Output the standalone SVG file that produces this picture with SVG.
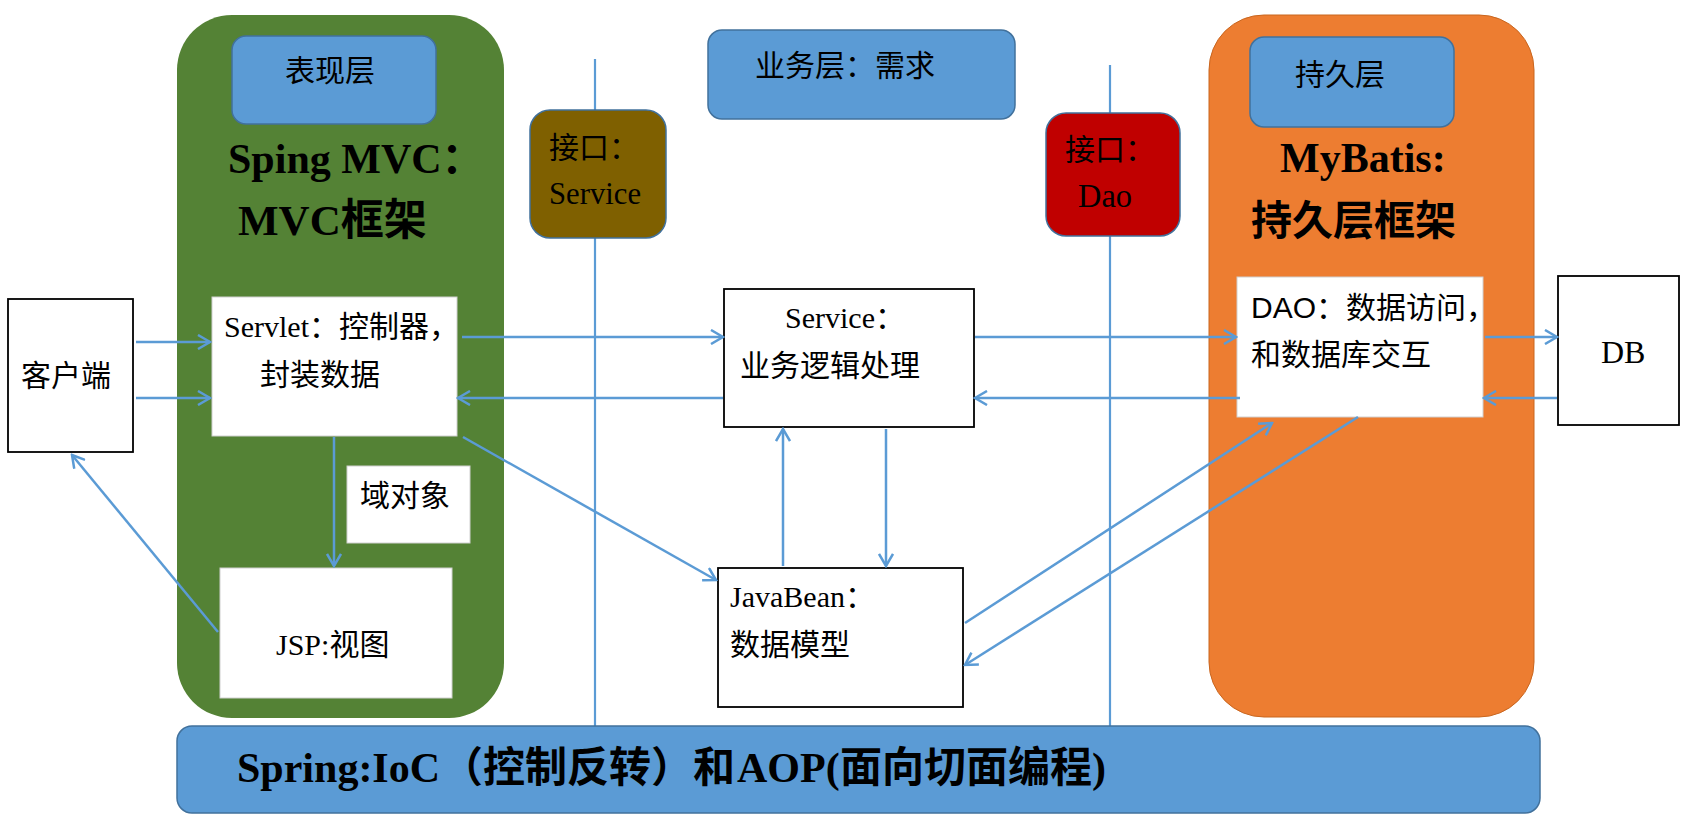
<svg xmlns="http://www.w3.org/2000/svg" width="1703" height="823" viewBox="0 0 1703 823">
<style>
  .cjk { font-family: "Liberation Serif", "Noto Sans CJK SC", sans-serif; font-size: 30px; fill: #000; }
  .sans { font-family: "Liberation Sans", "Noto Sans CJK SC", sans-serif; font-size: 30px; fill: #000; }
  .title { font-family: "Liberation Serif", "Noto Sans CJK SC", serif; font-weight: bold; font-size: 43px; fill: #000; }
  .label { fill: #5B9BD5; stroke: #41719C; stroke-width: 1.5; }
  .wbox { fill: #fff; stroke: #d0d0d0; stroke-width: 1; }
  .bbox { fill: #fff; stroke: #000; stroke-width: 1.8; }
  .conn { stroke: #5B9BD5; stroke-width: 2.5; fill: none; }
  .vline { stroke: #5B9BD5; stroke-width: 2.2; fill: none; }
</style>
<defs>
  <marker id="arr" viewBox="0 0 16 16" refX="14" refY="8" markerWidth="16" markerHeight="16" markerUnits="userSpaceOnUse" orient="auto">
    <path d="M2,1 L14,8 L2,15" fill="none" stroke="#5B9BD5" stroke-width="2.5"/>
  </marker>
</defs>

<g id="presentation-layer">
  <rect x="177" y="15" width="327" height="703" rx="55" ry="55" fill="#548235"/>
</g>
<g id="persistence-layer">
  <rect x="1209" y="15" width="325" height="702" rx="55" ry="55" fill="#ED7D31" stroke="#C9661F" stroke-width="1"/>
</g>

<g id="dividers">
  <line class="vline" x1="595" y1="59" x2="595" y2="727"/>
  <line class="vline" x1="1110" y1="65" x2="1110" y2="727"/>
</g>

<g id="label-presentation">
  <rect class="label" x="232" y="36" width="204" height="88" rx="14"/>
  <text class="cjk" x="285" y="81">表现层</text>
</g>
<g id="title-springmvc">
  <text class="title" x="228" y="173" style="font-size:42px">Sping MVC：</text>
  <text class="title" x="238" y="235">MVC框架</text>
</g>

<g id="label-business">
  <rect class="label" x="708" y="30" width="307" height="89" rx="14"/>
  <text class="cjk" x="755" y="76">业务层：需求</text>
</g>

<g id="iface-service">
  <rect x="530" y="110" width="136" height="128" rx="20" fill="#7F6000" stroke="#41719C" stroke-width="1.5"/>
  <text class="cjk" x="549" y="158">接口：</text>
  <text class="cjk" x="549" y="204" style="font-size:32px" textLength="92" lengthAdjust="spacingAndGlyphs">Service</text>
</g>

<g id="iface-dao">
  <rect x="1046" y="113" width="134" height="123" rx="20" fill="#C00000" stroke="#41719C" stroke-width="1.5"/>
  <text class="cjk" x="1065" y="160">接口：</text>
  <text class="cjk" x="1078" y="207" style="font-size:33px" textLength="54" lengthAdjust="spacingAndGlyphs">Dao</text>
</g>

<g id="label-persistence">
  <rect class="label" x="1250" y="37" width="204" height="90" rx="14"/>
  <text class="cjk" x="1295" y="85">持久层</text>
</g>
<g id="title-mybatis">
  <text class="title" x="1280" y="172" style="font-size:42px">MyBatis:</text>
  <text class="title" x="1251" y="235" style="font-size:41px">持久层框架</text>
</g>

<g id="client">
  <rect class="bbox" x="8" y="299" width="125" height="153"/>
  <text class="cjk" x="21" y="386">客户端</text>
</g>

<g id="servlet">
  <rect class="wbox" x="212" y="297" width="245" height="139"/>
  <text class="cjk" x="224" y="337">Servlet：控制器，</text>
  <text class="cjk" x="260" y="385">封装数据</text>
</g>

<g id="domain-object">
  <rect class="wbox" x="347" y="466" width="123" height="77"/>
  <text class="cjk" x="360" y="506">域对象</text>
</g>

<g id="jsp">
  <rect class="wbox" x="220" y="568" width="232" height="130"/>
  <text class="cjk" x="276" y="655">JSP:视图</text>
</g>

<g id="service">
  <rect class="bbox" x="724" y="289" width="250" height="138"/>
  <text class="cjk" x="785" y="328">Service：</text>
  <text class="cjk" x="740" y="376">业务逻辑处理</text>
</g>

<g id="javabean">
  <rect class="bbox" x="718" y="568" width="245" height="139"/>
  <text class="cjk" x="730" y="607">JavaBean：</text>
  <text class="cjk" x="730" y="655">数据模型</text>
</g>

<g id="dao">
  <rect class="wbox" x="1237" y="277" width="246" height="140"/>
  <text class="sans" x="1251" y="318">DAO：数据访问，</text>
  <text class="sans" x="1251" y="365">和数据库交互</text>
</g>

<g id="db">
  <rect class="bbox" x="1558" y="276" width="121" height="149"/>
  <text class="cjk" x="1601" y="363" style="font-size:32px">DB</text>
</g>

<g id="spring">
  <rect x="177" y="726" width="1363" height="87" rx="15" fill="#5B9BD5" stroke="#41719C" stroke-width="1.5"/>
  <text class="title" y="782" style="font-size:42px"><tspan x="237">Spring:IoC</tspan><tspan x="441">（控制反转）和</tspan><tspan x="737">AOP(</tspan><tspan x="840">面向切面编程</tspan><tspan x="1092">)</tspan></text>
</g>

<g id="connectors">
  <line class="conn" x1="136" y1="342" x2="210" y2="342" marker-end="url(#arr)"/>
  <line class="conn" x1="136" y1="398" x2="210" y2="398" marker-end="url(#arr)"/>
  <line class="conn" x1="462" y1="337" x2="723" y2="337" marker-end="url(#arr)"/>
  <line class="conn" x1="723" y1="398" x2="458" y2="398" marker-end="url(#arr)"/>
  <line class="conn" x1="975" y1="337" x2="1236" y2="337" marker-end="url(#arr)"/>
  <line class="conn" x1="1240" y1="398" x2="975" y2="398" marker-end="url(#arr)"/>
  <line class="conn" x1="1485" y1="337" x2="1557" y2="337" marker-end="url(#arr)"/>
  <line class="conn" x1="1557" y1="398" x2="1484" y2="398" marker-end="url(#arr)"/>
  <line class="conn" x1="334" y1="437" x2="334" y2="566" marker-end="url(#arr)"/>
  <line class="conn" x1="218" y1="632" x2="72" y2="455" marker-end="url(#arr)"/>
  <line class="conn" x1="463" y1="437" x2="716" y2="580" marker-end="url(#arr)"/>
  <line class="conn" x1="783" y1="566" x2="783" y2="429" marker-end="url(#arr)"/>
  <line class="conn" x1="886" y1="429" x2="886" y2="566" marker-end="url(#arr)"/>
  <line class="conn" x1="965" y1="623" x2="1272" y2="423" marker-end="url(#arr)"/>
  <line class="conn" x1="1358" y1="417" x2="965" y2="665" marker-end="url(#arr)"/>
</g>
</svg>
